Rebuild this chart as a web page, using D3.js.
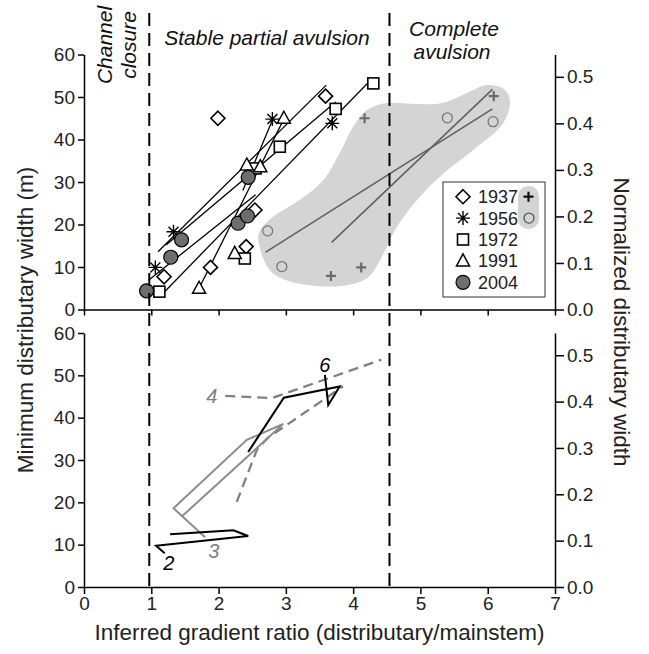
<!DOCTYPE html>
<html>
<head>
<meta charset="utf-8">
<script src="https://cdn.jsdelivr.net/npm/d3@7"></script>
<style>
  body { margin: 0; background: #fff; }
  svg { font-family: "Liberation Sans", Arial, sans-serif; }
  .eje path, .eje line { stroke: #000; stroke-width: 1.5; }
  .eje text { font-size: 19px; fill: #222; font-family: "Liberation Sans", Arial, sans-serif; }
</style>
</head>
<body>
<svg id="graf" width="649" height="654"></svg>
<script>
// ---- datos ----
const anios = ["1937", "1956", "1972", "1991", "2004"];

const p1937 = [[1.99, 45.0], [3.59, 50.2], [2.54, 23.4], [2.41, 14.8], [1.88, 9.9], [1.19, 7.7]];
const p1956 = [[2.80, 44.8], [3.69, 43.8], [1.33, 18.3], [1.06, 9.9]];
const p1972 = [[4.30, 53.2], [3.74, 47.2], [2.91, 38.3], [2.55, 33.2], [2.39, 12.0], [1.12, 4.2]];
const p1991 = [[2.97, 45.0], [2.42, 34.0], [2.62, 33.6], [2.24, 13.2], [1.71, 5.0]];
const p2004 = [[2.44, 31.1], [2.29, 20.3], [2.43, 22.0], [1.45, 16.4], [1.29, 12.3], [0.93, 4.4]];

// rectas de ajuste (inicio, fin)
const ajustes = [
  [[1.10, 13.6], [3.60, 52.8]],
  [[1.22, 15.2], [3.74, 48.8]],
  [[0.96, 6.9], [2.55, 27.0]],
  [[1.18, 3.9], [4.28, 54.3]],
  [[1.71, 5.0], [2.97, 44.8]],
  [[2.36, 28.0], [2.82, 45.3]]
];

// avulsion completa (zona gris)
const grisCruces = [[4.17, 45.0], [6.09, 50.2], [3.67, 7.9], [4.12, 9.9]];
const grisCirculos = [[2.73, 18.5], [2.94, 10.1], [5.40, 45.1], [6.08, 44.2]];
const grisAjustes = [
  [[2.70, 13.5], [6.07, 47.2]],
  [[3.68, 15.8], [6.07, 51.8]]
];
const mancha = [
  [2.59, 16.4], [2.81, 8.5], [3.66, 5.4], [4.20, 7.3], [4.40, 11.6], [4.65, 19.5],
  [4.99, 26.5], [5.34, 32.0], [5.78, 37.5], [6.23, 43.8], [6.33, 49.3], [6.23, 52.0],
  [5.98, 52.8], [5.69, 50.9], [5.29, 48.5], [4.79, 48.5], [4.45, 48.5], [4.20, 46.9],
  [4.00, 43.0], [3.80, 36.8], [3.56, 30.5], [3.21, 25.8], [2.81, 21.8], [2.62, 18.7]
];

// trayectorias (panel inferior)
const negro1 = [[1.20, 7.97], [1.07, 9.76], [2.44, 12.06], [2.22, 13.4], [1.28, 12.46]];
const negro2 = [[2.44, 31.9], [2.97, 44.7], [3.80, 47.35], [3.63, 43.0], [3.58, 50.1]];
const gris1 = [[1.80, 11.75], [1.33, 18.6], [2.42, 34.75], [2.96, 38.5], [1.45, 16.6]];
const guiones1 = [[2.10, 45.15], [2.79, 44.6], [4.42, 53.7]];
const guiones2 = [[2.27, 20.1], [2.57, 32.4], [2.73, 35.2], [3.85, 47.4]];
const etiquetas = [
  { t: "2", x: 1.26, y: 4.0, c: "#000" },
  { t: "3", x: 1.93, y: 6.9, c: "#808080" },
  { t: "4", x: 1.90, y: 43.5, c: "#808080" },
  { t: "6", x: 3.58, y: 50.8, c: "#000" }
];

// limites de regimen
const limites = [0.97, 4.54];

const ticksX = [0, 1, 2, 3, 4, 5, 6, 7];
const ticksY = [0, 10, 20, 30, 40, 50, 60];
const ticksN = [0, 0.1, 0.2, 0.3, 0.4, 0.5];

// ---- escalas ----
const svg = d3.select("#graf");

const x = d3.scaleLinear().domain([0, 7]).range([84, 555]);
const yArr = d3.scaleLinear().domain([0, 60]).range([309.5, 54.5]);
const yAba = d3.scaleLinear().domain([0, 60]).range([587, 333]);
const nArr = d3.scaleLinear().domain([0, 0.548]).range([309.5, 54.5]);
const nAba = d3.scaleLinear().domain([0, 0.548]).range([587, 333]);

const linea = (ys) => d3.line().x(d => x(d[0])).y(d => ys(d[1]));

// ---- simbolos ----
function simbolo(g, tipo, color) {
  if (tipo === "1937") {
    g.append("path").attr("d", "M0,-7L7,0L0,7L-7,0Z")
      .attr("fill", "#fff").attr("stroke", "#000").attr("stroke-width", 1.6);
  } else if (tipo === "1956") {
    g.append("path").attr("d", "M-7,0H7M0,-7V7M-5,-5L5,5M-5,5L5,-5")
      .attr("stroke", "#000").attr("stroke-width", 1.4);
  } else if (tipo === "1972") {
    g.append("rect").attr("x", -5.5).attr("y", -5.5).attr("width", 11).attr("height", 11)
      .attr("fill", "#fff").attr("stroke", "#000").attr("stroke-width", 1.6);
  } else if (tipo === "1991") {
    g.append("path").attr("d", "M0,-7L6.5,5L-6.5,5Z")
      .attr("fill", "#fff").attr("stroke", "#000").attr("stroke-width", 1.5);
  } else if (tipo === "2004") {
    g.append("circle").attr("r", 7)
      .attr("fill", "#6e6e6e").attr("stroke", "#000").attr("stroke-width", 1.2);
  } else if (tipo === "cruz") {
    g.append("path").attr("d", "M-5,0H5M0,-5V5")
      .attr("stroke", color || "#6a6a6a").attr("stroke-width", 2.2);
  } else if (tipo === "aro") {
    g.append("circle").attr("r", 5)
      .attr("fill", "none").attr("stroke", color || "#777").attr("stroke-width", 1.3);
  }
}

function puntos(datos, tipo) {
  svg.append("g").selectAll("g").data(datos).join("g")
    .attr("transform", d => `translate(${x(d[0])},${yArr(d[1])})`)
    .each(function () { simbolo(d3.select(this), tipo); });
}

// ---- panel superior ----
svg.append("path")
  .datum(mancha)
  .attr("d", d3.line().x(d => x(d[0])).y(d => yArr(d[1])).curve(d3.curveCatmullRomClosed.alpha(0.5)))
  .attr("fill", "#d4d4d4");

grisAjustes.forEach(l => {
  svg.append("path").datum(l).attr("d", linea(yArr))
    .attr("stroke", "#5f5f5f").attr("stroke-width", 1.5).attr("fill", "none");
});

ajustes.forEach(l => {
  svg.append("path").datum(l).attr("d", linea(yArr))
    .attr("stroke", "#000").attr("stroke-width", 1.3).attr("fill", "none");
});

puntos(grisCruces, "cruz");
puntos(grisCirculos, "aro");
puntos(p1937, "1937");
puntos(p1956, "1956");
puntos(p1972, "1972");
puntos(p1991, "1991");
puntos(p2004, "2004");

// leyenda
const ley = svg.append("g").attr("transform", "translate(443,182)");
ley.append("rect").attr("width", 102).attr("height", 115)
  .attr("fill", "#fff").attr("stroke", "#333").attr("stroke-width", 1);
ley.append("rect").attr("x", 75).attr("y", 4).attr("width", 21).attr("height", 43).attr("rx", 10)
  .attr("fill", "#d4d4d4");
anios.forEach((a, i) => {
  const fila = ley.append("g").attr("transform", `translate(20,${14.7 + i * 21.4})`);
  simbolo(fila, a);
  fila.append("text").attr("x", 15).attr("y", 6.5).attr("font-size", 18).attr("fill", "#222").text(a);
});
simbolo(ley.append("g").attr("transform", "translate(85.5,14.7)"), "cruz", "#111");
simbolo(ley.append("g").attr("transform", "translate(86,36.1)"), "aro", "#555");

// ---- panel inferior ----
const trazo = (datos, color, ancho, guion) => {
  svg.append("path").datum(datos).attr("d", linea(yAba))
    .attr("fill", "none").attr("stroke", color).attr("stroke-width", ancho)
    .attr("stroke-dasharray", guion);
};
trazo(guiones1, "#808080", 2.3, "10,6");
trazo(guiones2, "#808080", 2.3, "10,6");
trazo(gris1, "#8c8c8c", 2, null);
trazo(negro1, "#000", 2, null);
trazo(negro2, "#000", 2, null);

svg.append("g").selectAll("text").data(etiquetas).join("text")
  .attr("x", d => x(d.x)).attr("y", d => yAba(d.y))
  .attr("text-anchor", "middle").attr("font-size", 20).attr("font-style", "italic")
  .attr("fill", d => d.c).text(d => d.t);

// lineas verticales discontinuas
svg.append("g").selectAll("line").data(limites).join("line")
  .attr("x1", d => x(d)).attr("x2", d => x(d))
  .attr("y1", 13).attr("y2", yAba(0))
  .attr("stroke", "#000").attr("stroke-width", 2).attr("stroke-dasharray", "13,7");

// ---- ejes ----
const fmtN = d3.format(".1f");
const fmtX = d3.format("d");
svg.append("g").attr("class", "eje").attr("transform", `translate(${x(0)},0)`)
  .call(d3.axisLeft(yArr).tickValues(ticksY).tickFormat(fmtX).tickSize(6).tickSizeOuter(0));
svg.append("g").attr("class", "eje").attr("transform", `translate(${x(0)},0)`)
  .call(d3.axisLeft(yAba).tickValues(ticksY).tickFormat(fmtX).tickSize(6).tickSizeOuter(0));
svg.append("g").attr("class", "eje").attr("transform", `translate(${x(7)},0)`)
  .call(d3.axisRight(nArr).tickValues(ticksN).tickFormat(fmtN).tickSize(9).tickSizeOuter(0));
svg.append("g").attr("class", "eje").attr("transform", `translate(${x(7)},0)`)
  .call(d3.axisRight(nAba).tickValues(ticksN).tickFormat(fmtN).tickSize(9).tickSizeOuter(0));
svg.append("g").attr("class", "eje").attr("transform", `translate(0,${yArr(0)})`)
  .call(d3.axisBottom(x).tickValues(ticksX).tickFormat("").tickSize(6).tickSizeOuter(0));
svg.append("g").attr("class", "eje").attr("transform", `translate(0,${yAba(0)})`)
  .call(d3.axisBottom(x).tickValues(ticksX).tickFormat(fmtX).tickSize(7).tickSizeOuter(0));

// ---- textos ----
svg.append("text").attr("x", (x(0) + x(7)) / 2).attr("y", 640)
  .attr("text-anchor", "middle").attr("font-size", 22.5).attr("fill", "#222")
  .text("Inferred gradient ratio (distributary/mainstem)");

svg.append("text").attr("transform", "translate(33,320) rotate(-90)")
  .attr("text-anchor", "middle").attr("font-size", 22.5).attr("fill", "#222")
  .text("Minimum distributary width (m)");

svg.append("text").attr("transform", "translate(614,322) rotate(90)")
  .attr("text-anchor", "middle").attr("font-size", 22.5).attr("fill", "#222")
  .text("Normalized distributary width");

const regimen = svg.append("g").attr("font-style", "italic").attr("font-size", 21).attr("fill", "#111");
regimen.append("text").attr("transform", "translate(112,45) rotate(-90)")
  .attr("text-anchor", "middle").text("Channel");
regimen.append("text").attr("transform", "translate(136,45) rotate(-90)")
  .attr("text-anchor", "middle").text("closure");
regimen.append("text").attr("x", 267).attr("y", 45).attr("text-anchor", "middle")
  .text("Stable partial avulsion");
regimen.append("text").attr("x", 454).attr("y", 36).attr("text-anchor", "middle").text("Complete");
regimen.append("text").attr("x", 452).attr("y", 59).attr("text-anchor", "middle").text("avulsion");
</script>
</body>
</html>
